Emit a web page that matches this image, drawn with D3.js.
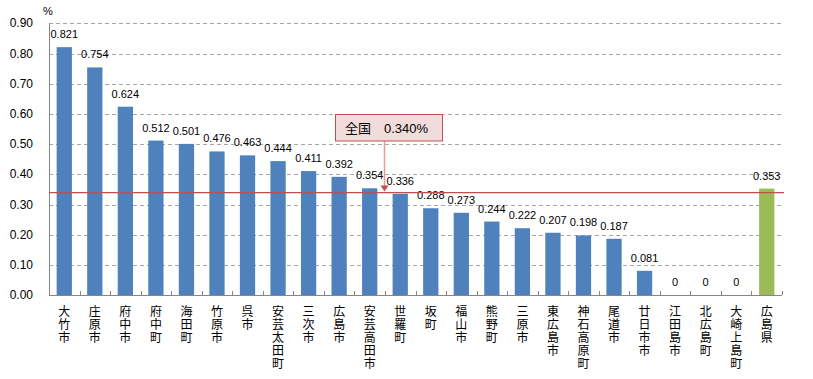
<!DOCTYPE html>
<html><head><meta charset="utf-8">
<script src="https://cdn.jsdelivr.net/npm/d3@7"></script>
<style>
body{margin:0;background:#fff;}
svg{display:block;}
</style></head>
<body>
<svg id="chart" width="813" height="379"></svg>
<script>
const categories = ["大竹市","庄原市","府中市","府中町","海田町","竹原市","呉市","安芸太田町","三次市","広島市","安芸高田市","世羅町","坂町","福山市","熊野町","三原市","東広島市","神石高原町","尾道市","廿日市市","江田島市","北広島町","大崎上島町","広島県"];
const values = [0.821,0.754,0.624,0.512,0.501,0.476,0.463,0.444,0.411,0.392,0.354,0.336,0.288,0.273,0.244,0.222,0.207,0.198,0.187,0.081,0,0,0,0.353];
const valueLabels = ["0.821","0.754","0.624","0.512","0.501","0.476","0.463","0.444","0.411","0.392","0.354","0.336","0.288","0.273","0.244","0.222","0.207","0.198","0.187","0.081","0","0","0","0.353"];
const yTicks = [0,0.1,0.2,0.3,0.4,0.5,0.6,0.7,0.8,0.9];
const nationalValue = 0.340;
const nationalLabel = ["全国","0.340%"];
const unitLabel = "%";

(function(){
const svg = d3.select("#chart");
const pL = 49, pR = 782, pT = 23.3, pB = 295.3;
const x = d3.scaleBand().domain(categories).range([pL, pR]).paddingInner(0.5).paddingOuter(0.25);
const y = d3.scaleLinear().domain([0, 0.9]).range([pB, pT]);
const latin = "Arial, 'Liberation Sans', sans-serif";
const cjk = "'Noto Sans CJK JP', sans-serif";

// gridlines
svg.append("g").selectAll("line").data(yTicks.filter(d => d > 0)).join("line")
  .attr("x1", pL).attr("x2", pR)
  .attr("y1", d => Math.round(y(d)) + 0.5).attr("y2", d => Math.round(y(d)) + 0.5)
  .attr("stroke", "#a6a6a6").attr("stroke-width", 1).attr("stroke-dasharray", "4,3");

// y tick labels
svg.append("g").selectAll("text").data(yTicks).join("text")
  .attr("x", 33).attr("y", d => y(d) + 4)
  .attr("text-anchor", "end").attr("font-family", latin).attr("font-size", 12)
  .attr("fill", "#000").text(d => d.toFixed(2));

svg.append("text").attr("x", 48).attr("y", 15).attr("text-anchor", "middle")
  .attr("font-family", latin).attr("font-size", 11).text(unitLabel);

// bars
svg.append("g").selectAll("rect").data(values).join("rect")
  .attr("x", (d, i) => x(categories[i]))
  .attr("width", x.bandwidth())
  .attr("y", d => y(d))
  .attr("height", d => pB - y(d))
  .attr("fill", (d, i) => categories[i] === "広島県" ? "#9bbb59" : "#4f81bd");

// value labels
svg.append("g").selectAll("text").data(values).join("text")
  .attr("x", (d, i) => x(categories[i]) + x.bandwidth() / 2)
  .attr("y", d => y(d) - 9)
  .attr("text-anchor", "middle").attr("font-family", latin).attr("font-size", 11)
  .attr("fill", "#000").text((d, i) => valueLabels[i]);

// axes lines
svg.append("line").attr("x1", pL + 0.5).attr("x2", pL + 0.5).attr("y1", pT).attr("y2", pB)
  .attr("stroke", "#868686").attr("stroke-width", 1);
svg.append("line").attr("x1", pL).attr("x2", pR).attr("y1", Math.round(pB) + 0.5).attr("y2", Math.round(pB) + 0.5)
  .attr("stroke", "#868686").attr("stroke-width", 1);
// category ticks (inside)
const boundaries = d3.range(1, categories.length + 1).map(i => pL + (pR - pL) * i / categories.length);
svg.append("g").selectAll("line").data(boundaries).join("line")
  .attr("x1", d => Math.round(d) + 0.5).attr("x2", d => Math.round(d) + 0.5)
  .attr("y1", Math.round(pB) - 4).attr("y2", Math.round(pB))
  .attr("stroke", "#868686");

// national average line
svg.append("line").attr("x1", pL).attr("x2", pR + 2)
  .attr("y1", y(nationalValue)).attr("y2", y(nationalValue))
  .attr("stroke", "#c0504d").attr("stroke-width", 1.2);

// x category labels (vertical, upright)
svg.append("g").selectAll("text").data(categories).join("text")
  .attr("x", d => x(d) + x.bandwidth() / 2)
  .attr("y", 305)
  .attr("writing-mode", "vertical-rl")
  .style("text-orientation", "upright")
  .style("letter-spacing", "1px")
  .attr("font-family", cjk).attr("font-size", 12).attr("fill", "#000")
  .text(d => d);

// callout
const bx = 335.5, by = 114.5, bw = 107, bh = 26.5;
const ax = 384.5;
const ly = y(nationalValue);
svg.append("line").attr("x1", ax).attr("x2", ax).attr("y1", by + bh).attr("y2", ly - 5)
  .attr("stroke", "#e39c9a").attr("stroke-width", 1.5);
svg.append("path")
  .attr("d", `M${ax - 4},${ly - 7} L${ax + 4},${ly - 7} L${ax},${ly - 1} Z`)
  .attr("fill", "#c0504d");
svg.append("rect").attr("x", bx).attr("y", by).attr("width", bw).attr("height", bh)
  .attr("fill", "#f2dcdb").attr("stroke", "#c0504d").attr("stroke-width", 1);
svg.append("text").attr("x", 345).attr("y", by + 18.5).attr("font-family", cjk).attr("font-size", 13)
  .text(nationalLabel[0]);
svg.append("text").attr("x", 384).attr("y", by + 18.5).attr("font-family", latin).attr("font-size", 13)
  .text(nationalLabel[1]);
})();
</script>
</body></html>
